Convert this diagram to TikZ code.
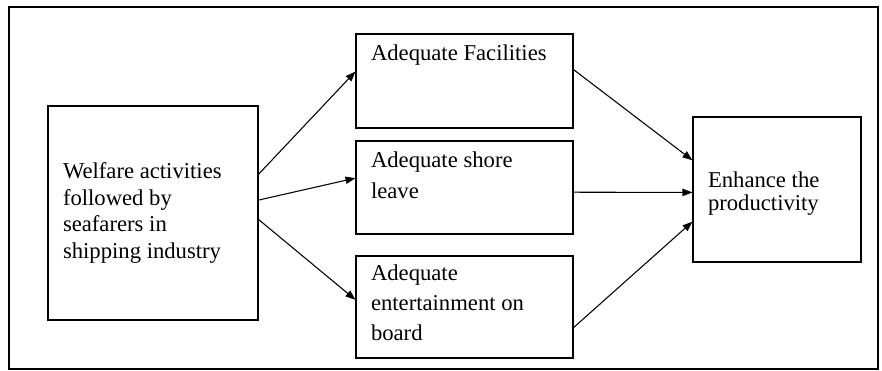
\documentclass[tikz,border=0pt]{standalone}
\usepackage{fontspec}
\setmainfont{Liberation Serif}
\usetikzlibrary{arrows.meta,calc}
\tikzset{stagebox/.style={draw,line width=0.8pt,inner xsep=11.25pt,inner ysep=0pt},
    flow/.style={-{Triangle[length=7.5pt,width=5.5pt]},line width=0.8pt}}
\newcommand{\boxtext}[5]{\parbox[c][#2][#3]{#1}{\fontsize{17}{#4}\selectfont\raggedright #5}}

\begin{document}
\begin{tikzpicture}[x=0.75pt,y=0.75pt,yscale=-1,xscale=1]
\useasboundingbox (0,0) rectangle (882,371);

%Shape: Rectangle [frame]
\draw[line width=0.8pt] (9,7) rectangle (878,369);

% Boxes
\node[stagebox] (welfare) at (153,213) {\boxtext{135pt}{160.5pt}{c}{20pt}{Welfare activities\\ followed by\\ seafarers in\\ shipping industry}};
\node[stagebox] (facil) at (464.5,81) {\boxtext{140.25pt}{70.5pt}{t}{22pt}{\vspace*{8pt}Adequate Facilities}};
\node[stagebox] (shore) at (464.5,187.5) {\boxtext{140.25pt}{69.75pt}{t}{23pt}{\vspace*{8pt}Adequate shore\\ leave}};
\node[stagebox] (entert) at (464.5,307) {\boxtext{140.25pt}{76.5pt}{t}{22.5pt}{\vspace*{6.5pt}Adequate\\ entertainment on\\ board}};
\node[stagebox] (produc) at (777,189.5) {\boxtext{103.5pt}{108.75pt}{c}{17.5pt}{\vspace*{6pt}Enhance the\\ productivity}};

%Straight Lines
\draw[flow] ($(welfare.north east)!0.32!(welfare.south east)$) -- ($(facil.north west)!0.40!(facil.south west)$);
\draw[flow] ($(welfare.north east)!0.44!(welfare.south east)$) -- ($(shore.north west)!0.40!(shore.south west)$);
\draw[flow] ($(welfare.north east)!0.53!(welfare.south east)$) -- ($(entert.north west)!0.43!(entert.south west)$);
\draw[flow] ($(facil.north east)!0.38!(facil.south east)$) -- ($(produc.north west)!0.30!(produc.south west)$);
\draw[flow] ($(shore.north east)!0.55!(shore.south east)$) -- ($(produc.north west)!0.52!(produc.south west)$);
\draw[flow] ($(entert.north east)!0.70!(entert.south east)$) -- ($(produc.north west)!0.72!(produc.south west)$);

\end{tikzpicture}
\end{document}
